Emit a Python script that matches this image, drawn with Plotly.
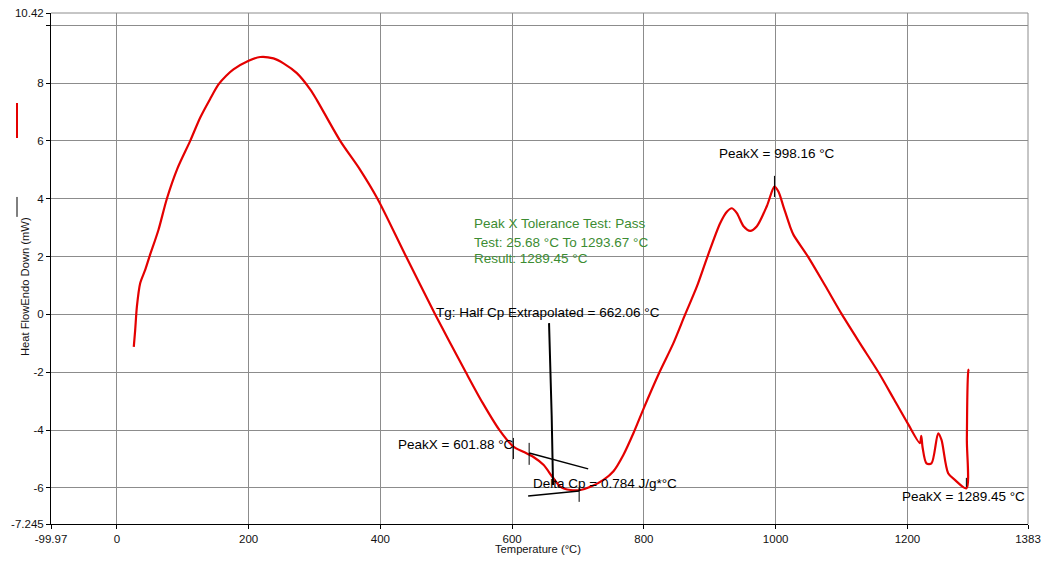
import plotly.graph_objects as go

# DSC heat-flow trace (temperature in °C, heat flow in mW)
temperature = [25.68, 27.8, 30.4, 35.4, 43, 49.5, 63.1, 75.9, 92, 111.3, 126.4, 141.6,
               154.3, 166, 177, 200, 217.5, 237.7, 252.9, 273.2, 293.4, 303.6, 339, 369.3,
               395.6, 439, 483.2, 529.7, 555, 580.8, 601.88, 617, 632.3,
               647.5, 661.2, 673.3, 688.5, 703.7, 718.9, 738.6, 753.8, 769, 784.2,
               800, 823.6, 844.6, 862.6, 880.3, 896.5, 915.7, 925.9, 933.5, 941.1, 951.2,
               961.3, 971.5, 986.7, 998.16, 1004.3, 1011.9, 1022, 1027.1, 1049, 1075,
               1100.5, 1128, 1156, 1180, 1200, 1218.9, 1221, 1223, 1228.9, 1236.5, 1246.7,
               1251.7, 1261.8, 1272, 1289.45, 1290.2, 1292.7, 1293.67]
heat_flow = [-1.12, -0.54, 0.27, 1.08, 1.54, 2.0, 2.92, 4.0, 5.05, 6.0, 6.8, 7.45,
             7.95, 8.25, 8.47, 8.77, 8.9, 8.85, 8.68, 8.34, 7.78, 7.41, 6.0, 5.0,
             4.0, 2.0, 0.0, -2.0, -3.05, -4.0, -4.57, -4.75, -4.93,
             -5.20, -5.62, -5.96, -6.07, -6.07, -5.96, -5.72, -5.42, -4.85, -4.1,
             -3.23, -2.0, -1.0, 0.0, 0.96, 2.0, 3.15, 3.55, 3.67, 3.5, 3.05,
             2.89, 3.05, 3.75, 4.42, 4.24, 3.72, 3.03, 2.75, 2.0, 1.0,
             0.0, -1.0, -2.0, -2.95, -3.75, -4.45, -4.2, -4.6, -5.15, -5.15, -4.11,
             -4.34, -5.49, -5.72, -6.01, -4.28, -1.92, -1.9]

# axis ticks
x_tickvals = [-99.97, 0, 200, 400, 600, 800, 1000, 1200, 1383]
x_ticktext = ["-99.97", "0", "200", "400", "600", "800", "1000", "1200", "1383"]
y_tickvals = [-7.245, -6, -4, -2, 0, 2, 4, 6, 8, 10, 10.42]
y_ticktext = ["-7.245", "-6", "-4", "-2", "0", "2", "4", "6", "8", "", "10.42"]

# analysis construction lines (glass transition and peak markers)
tg_line_x = [656.0, 658.5, 660.0, 662.06]
tg_line_y = [-0.30, -2.0, -3.5, -5.9]
onset_tangent_x = [625.8, 715.4]
onset_tangent_y = [-4.79, -5.34]
end_tangent_x = [624.3, 701.7]
end_tangent_y = [-6.28, -6.10]
tick_marks = [  # (x, y_top, y_bottom)
    (601.88, -4.27, -5.00),
    (625.8, -4.44, -5.20),
    (701.7, -6.00, -6.48),
    (998.16, 4.79, 4.06),
    (1289.45, -5.65, -5.96),
]

FONT = "Liberation Sans, Arial, sans-serif"

fig = go.Figure()

fig.add_trace(go.Scatter(
    x=temperature, y=heat_flow, mode="lines",
    line=dict(color="rgb(228,0,0)", width=2.2, shape="spline", smoothing=0.8),
    hoverinfo="skip", showlegend=False,
))

def black_line(xs, ys, width=1.5):
    fig.add_trace(go.Scatter(x=xs, y=ys, mode="lines",
                             line=dict(color="black", width=width),
                             hoverinfo="skip", showlegend=False))

black_line(tg_line_x, tg_line_y, 2)
black_line(onset_tangent_x, onset_tangent_y)
black_line(end_tangent_x, end_tangent_y)
for tx, ty0, ty1 in tick_marks:
    black_line([tx, tx], [ty0, ty1], 1)

# text annotations
labels = [
    (912.7, 5.55, "PeakX = 998.16 °C", "black"),
    (1190.5, -6.31, "PeakX = 1289.45 °C", "black"),
    (425.5, -4.51, "PeakX = 601.88 °C", "black"),
    (483.2, 0.05, "Tg: Half Cp Extrapolated = 662.06 °C", "black"),
    (630.4, -5.83, "Delta Cp = 0.784 J/g*°C", "black"),
    (541.1, 3.13, "Peak X Tolerance Test: Pass", "#3c8c32"),
    (541.1, 2.50, "Test: 25.68 °C To 1293.67 °C", "#3c8c32"),
    (541.1, 1.92, "Result: 1289.45 °C", "#3c8c32"),
]
for lx, ly, txt, col in labels:
    fig.add_annotation(x=lx, y=ly, text=txt, showarrow=False, xanchor="left",
                       yanchor="middle", font=dict(family=FONT, size=13.5, color=col),
                       borderpad=0)

# axis titles
fig.add_annotation(x=0.4985, y=-0.0646, xref="paper", yref="paper",
                   text="Temperature (°C)", showarrow=False,
                   font=dict(family=FONT, size=11.2, color="#111"))
fig.add_annotation(x=-0.0348, y=0.4638, xref="paper", yref="paper",
                   text="Heat FlowEndo Down (mW)", textangle=-90, showarrow=False,
                   font=dict(family=FONT, size=11.2, color="#111"))

shapes = [
    # series key next to the y title
    dict(type="line", xref="paper", yref="paper", x0=-0.0348, x1=-0.0348,
         y0=0.7554, y1=0.8239, line=dict(color="rgb(228,0,0)", width=2)),
    dict(type="line", xref="paper", yref="paper", x0=-0.0348, x1=-0.0348,
         y0=0.601, y1=0.640, line=dict(color="black", width=1)),
    # top and right frame
    dict(type="line", xref="paper", yref="paper", x0=0, x1=1, y0=1, y1=1,
         line=dict(color="#8c8c8c", width=1)),
    dict(type="line", xref="paper", yref="paper", x0=1, x1=1, y0=0, y1=1,
         line=dict(color="#8c8c8c", width=1)),
]

fig.update_layout(
    width=1046, height=565,
    margin=dict(l=51, r=18, t=13, b=41, autoexpand=False),
    paper_bgcolor="white", plot_bgcolor="white",
    showlegend=False, shapes=shapes,
    font=dict(family=FONT, size=11.5, color="#111"),
    xaxis=dict(range=[-99.97, 1383], tickmode="array", tickvals=x_tickvals,
               ticktext=x_ticktext, showgrid=True, gridcolor="#8c8c8c", gridwidth=1,
               zeroline=False, showline=True, linecolor="black", linewidth=1,
               ticks="outside", ticklen=4, tickcolor="black", automargin=False,
               tickfont=dict(family=FONT, size=11.5, color="#111")),
    yaxis=dict(range=[-7.245, 10.42], tickmode="array", tickvals=y_tickvals,
               ticktext=y_ticktext, showgrid=True, gridcolor="#8c8c8c", gridwidth=1,
               zeroline=False, showline=True, linecolor="black", linewidth=1,
               ticks="outside", ticklen=4, tickcolor="black", automargin=False,
               tickfont=dict(family=FONT, size=11.5, color="#111")),
)

fig.write_html("out.html")
